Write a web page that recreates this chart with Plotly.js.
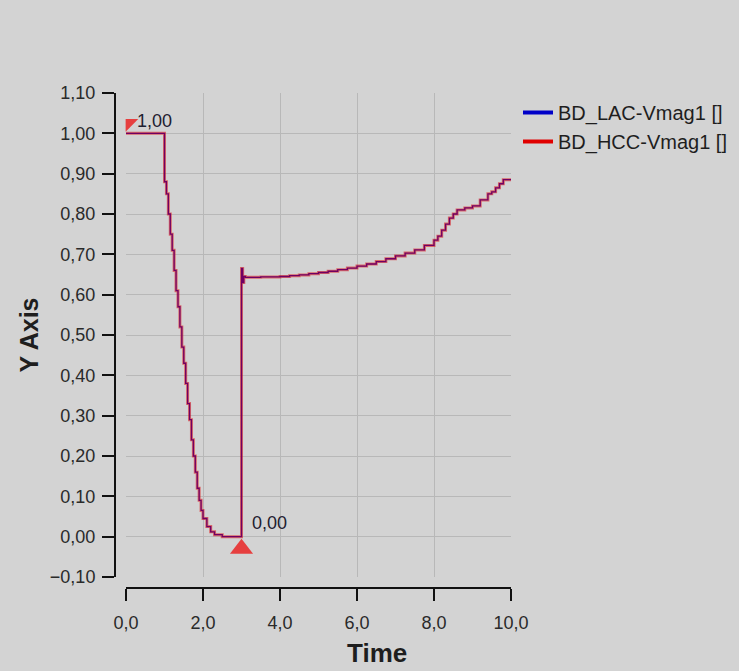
<!DOCTYPE html>
<html><head><meta charset="utf-8">
<script src="https://cdn.plot.ly/plotly-3.0.1.min.js"></script>
<style>html,body{margin:0;padding:0;background:#d3d3d3;} #chart{width:739px;height:671px;}</style>
</head><body><div id="chart"></div>
<script>
const timeValues = [0, 1.00, 1.05, 1.10, 1.15, 1.20, 1.25, 1.30, 1.35, 1.40, 1.45, 1.50, 1.55, 1.60, 1.65, 1.70, 1.75, 1.80, 1.85, 1.90, 1.95, 2.00, 2.10, 2.20, 2.30, 2.50, 3.00, 3.00, 3.03, 3.06, 3.10, 3.25, 3.50, 3.75, 4.00, 4.25, 4.50, 4.75, 5.00, 5.25, 5.50, 5.75, 6.00, 6.25, 6.50, 6.75, 7.00, 7.25, 7.50, 7.75, 8.00, 8.10, 8.20, 8.30, 8.40, 8.50, 8.60, 8.80, 9.00, 9.20, 9.40, 9.50, 9.60, 9.70, 9.80, 10.00];
const lacValues = [1.00, 0.88, 0.85, 0.80, 0.75, 0.71, 0.66, 0.61, 0.57, 0.52, 0.47, 0.43, 0.38, 0.33, 0.29, 0.24, 0.20, 0.16, 0.12, 0.09, 0.065, 0.045, 0.025, 0.012, 0.005, 0.0, 0.0, 0.665, 0.63, 0.645, 0.643, 0.643, 0.644, 0.644, 0.645, 0.647, 0.649, 0.652, 0.655, 0.658, 0.662, 0.666, 0.671, 0.676, 0.682, 0.689, 0.696, 0.703, 0.711, 0.722, 0.735, 0.745, 0.76, 0.775, 0.79, 0.80, 0.81, 0.815, 0.82, 0.835, 0.85, 0.855, 0.865, 0.875, 0.885, 0.887];
const hccValues = [1.00, 0.88, 0.85, 0.80, 0.75, 0.71, 0.66, 0.61, 0.57, 0.52, 0.47, 0.43, 0.38, 0.33, 0.29, 0.24, 0.20, 0.16, 0.12, 0.09, 0.065, 0.045, 0.025, 0.012, 0.005, 0.0, 0.0, 0.665, 0.63, 0.645, 0.643, 0.643, 0.644, 0.644, 0.645, 0.647, 0.649, 0.652, 0.655, 0.658, 0.662, 0.666, 0.671, 0.676, 0.682, 0.689, 0.696, 0.703, 0.711, 0.722, 0.735, 0.745, 0.76, 0.775, 0.79, 0.80, 0.81, 0.815, 0.82, 0.835, 0.85, 0.855, 0.865, 0.875, 0.885, 0.887];
const seriesNames = ['BD_LAC-Vmag1 []', 'BD_HCC-Vmag1 []'];
const seriesColors = ['#0000c8', '#e00000'];
const cursorTimes = [0.0, 3.0];
const cursorValues = [1.00, 0.00];
const cursorMarkerTimes = [0.10, 3.0];
const cursorMarkerValues = [1.025, -0.03];
const cursorSymbols = ['triangle-nw', 'triangle-up'];
const cursorSizes = [14, 20];
const xTickValues = [0, 2, 4, 6, 8, 10];
const yTickValues = [-0.1, 0, 0.1, 0.2, 0.3, 0.4, 0.5, 0.6, 0.7, 0.8, 0.9, 1.0, 1.1];
const xTitle = 'Time';
const yTitle = 'Y Axis';

const W = 739, H = 671;
const fontFam = 'Liberation Sans, Arial, sans-serif';

const traces = [
  {x: timeValues, y: lacValues, type: 'scatter', mode: 'lines', line: {color: seriesColors[0], width: 1.3, shape: 'hv'}, showlegend: false, hoverinfo: 'skip'},
  {x: timeValues, y: hccValues, type: 'scatter', mode: 'lines', line: {color: seriesColors[1], width: 3, shape: 'hv'}, opacity: 0.5, showlegend: false, hoverinfo: 'skip'},
  {x: [null], y: [null], type: 'scatter', mode: 'lines', name: seriesNames[0], line: {color: seriesColors[0], width: 4}},
  {x: [null], y: [null], type: 'scatter', mode: 'lines', name: seriesNames[1], line: {color: seriesColors[1], width: 4}},
  {x: cursorMarkerTimes, y: cursorMarkerValues, type: 'scatter', mode: 'markers', showlegend: false, cliponaxis: false,
   marker: {symbol: cursorSymbols, size: cursorSizes, color: '#ee0000', line: {width: 0}}}
];

const fmt = v => v.toFixed(2).replace('.', ',');
const annotations = [
  {x: cursorTimes[0], y: cursorValues[0], xref: 'x', yref: 'y', text: fmt(cursorValues[0]), showarrow: false,
   xanchor: 'left', yanchor: 'middle', xshift: 9, yshift: 12, font: {family: fontFam, size: 18, color: '#1e2030'}},
  {x: cursorTimes[1], y: cursorValues[1], xref: 'x', yref: 'y', text: fmt(cursorValues[1]), showarrow: false,
   xanchor: 'left', yanchor: 'middle', xshift: 8, yshift: 14, font: {family: fontFam, size: 18, color: '#1e2030'}},
  {x: 377 / W, y: (H - 653) / H, xref: 'paper', yref: 'paper', text: '<b>' + xTitle + '</b>', showarrow: false,
   xanchor: 'center', yanchor: 'middle', font: {family: fontFam, size: 26, color: '#1e1e1e'}}
];

const layout = {
  width: W, height: H,
  margin: {l: 0, r: 0, t: 0, b: 0},
  paper_bgcolor: '#d3d3d3', plot_bgcolor: '#d3d3d3',
  separators: ',.',
  font: {family: fontFam, size: 18, color: '#2a2a2a'},
  xaxis: {
    domain: [126 / W, 511 / W], range: [0, 10], anchor: 'free', position: (H - 588) / H,
    tickvals: xTickValues, tickformat: '.1f', ticks: 'outside', ticklen: 12, tickwidth: 2, tickcolor: '#111',
    showline: true, linecolor: '#111', linewidth: 2, showgrid: true, gridcolor: '#b8b8b8', gridwidth: 1,
    zeroline: false, ticklabelstandoff: 6, tickfont: {family: fontFam, size: 18, color: '#2a2a2a'}
  },
  yaxis: {
    domain: [(H - 577) / H, (H - 93) / H], range: [-0.1, 1.1], anchor: 'free', position: 115 / W,
    tickvals: yTickValues, tickformat: '.2f', ticks: 'outside', ticklen: 12, tickwidth: 2, tickcolor: '#111',
    showline: true, linecolor: '#111', linewidth: 2, showgrid: true, gridcolor: '#b8b8b8', gridwidth: 1,
    zeroline: false, ticklabelstandoff: 3, tickfont: {family: fontFam, size: 18, color: '#2a2a2a'},
    title: {text: '<b>' + yTitle + '</b>', font: {family: fontFam, size: 25, color: '#1e1e1e'}, standoff: 3}
  },
  legend: {x: 518 / W, y: (H - 93) / H, xanchor: 'left', yanchor: 'top', bgcolor: 'rgba(0,0,0,0)',
    font: {family: fontFam, size: 20, color: '#1e1e1e'}, tracegroupgap: 0},
  annotations: annotations,
  showlegend: true
};

Plotly.newPlot('chart', traces, layout, {displayModeBar: false, staticPlot: true});
</script></body></html>
